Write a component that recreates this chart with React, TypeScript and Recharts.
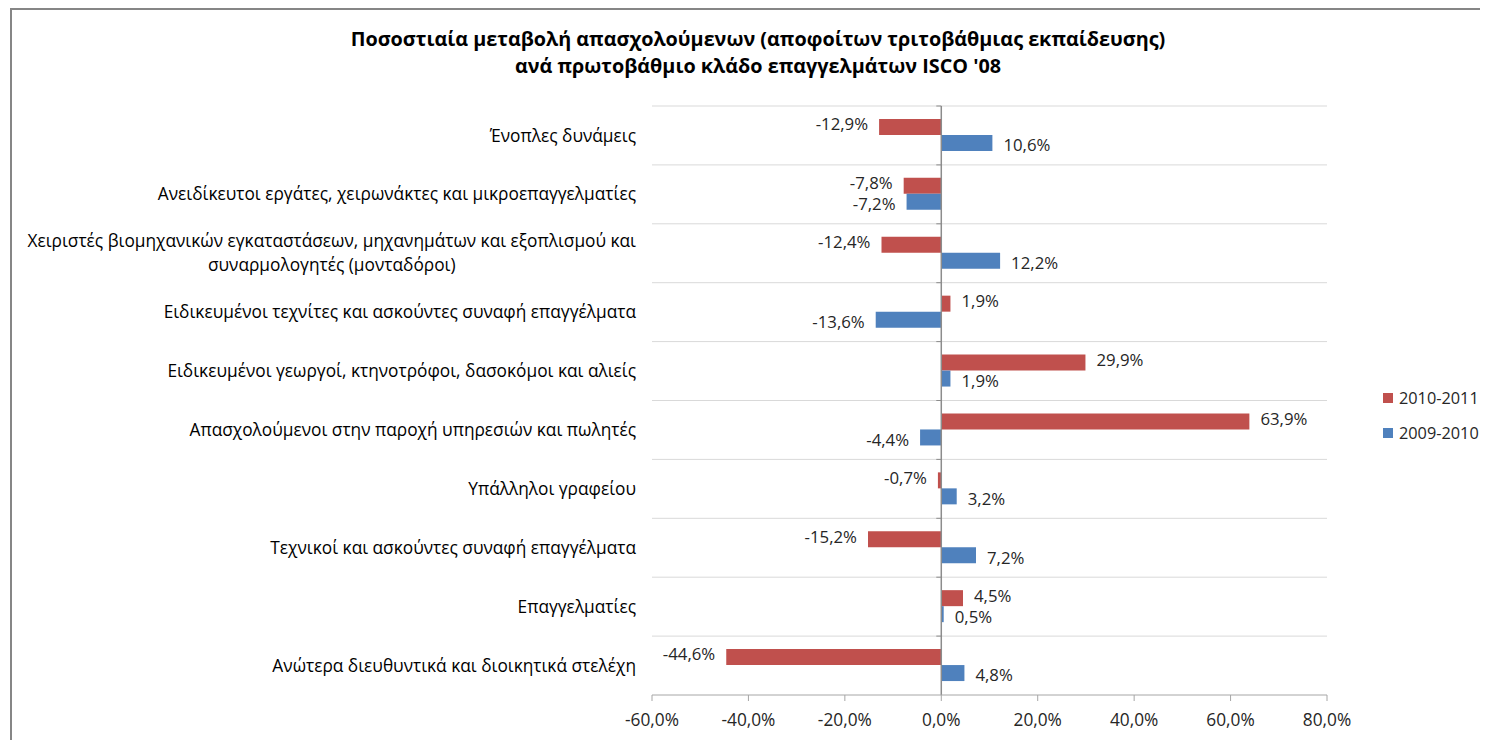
import { BarChart, Bar, XAxis, YAxis, CartesianGrid, ReferenceLine, LabelList, Legend } from "recharts";

const FONT = "'Open Sans', Roboto, sans-serif";
const TICK_FONT_SIZE = 17.3;

const categories: string[] = [
    "Ένοπλες δυνάμεις",
    "Ανειδίκευτοι εργάτες, χειρωνάκτες και μικροεπαγγελματίες",
    "Χειριστές βιομηχανικών εγκαταστάσεων, μηχανημάτων και εξοπλισμού και συναρμολογητές (μονταδόροι)",
    "Ειδικευμένοι τεχνίτες και ασκούντες συναφή επαγγέλματα",
    "Ειδικευμένοι γεωργοί, κτηνοτρόφοι, δασοκόμοι και αλιείς",
    "Απασχολούμενοι στην παροχή υπηρεσιών και πωλητές",
    "Υπάλληλοι γραφείου",
    "Τεχνικοί και ασκούντες συναφή επαγγέλματα",
    "Επαγγελματίες",
    "Ανώτερα διευθυντικά και διοικητικά στελέχη",
];

// % change per period
const change2010to2011: number[] = [-12.9, -7.8, -12.4, 1.9, 29.9, 63.9, -0.7, -15.2, 4.5, -44.6];
const change2009to2010: number[] = [10.6, -7.2, 12.2, -13.6, 1.9, -4.4, 3.2, 7.2, 0.5, 4.8];

const seriesNames: string[] = ["2010-2011", "2009-2010"];

const xTicks: number[] = [-60, -40, -20, 0, 20, 40, 60, 80];

const titleLines: string[] = [
    "Ποσοστιαία μεταβολή απασχολούμενων (αποφοίτων τριτοβάθμιας εκπαίδευσης)",
    "ανά πρωτοβάθμιο κλάδο επαγγελμάτων ISCO '08",
];

const chartData = categories.map((name, i) => ({
    name,
    p2010: change2010to2011[i],
    p2009: change2009to2010[i],
}));

const pct = (v: number) => `${v.toFixed(1).replace(".", ",")}%`;

let measureCtx: CanvasRenderingContext2D | null = null;
const measure = (text: string) => {
    if (!measureCtx) measureCtx = document.createElement("canvas").getContext("2d");
    if (!measureCtx) return text.length * 8;
    measureCtx.font = `${TICK_FONT_SIZE}px ${FONT}`;
    return measureCtx.measureText(text).width;
};

const wrapLabel = (text: string, maxWidth: number) => {
    const words = text.split(" ");
    const lines: string[] = [];
    let current = "";
    words.forEach((w) => {
        const next = current ? `${current} ${w}` : w;
        if (measure(next) > maxWidth && current) {
            lines.push(current);
            current = w;
        } else {
            current = next;
        }
    });
    if (current) lines.push(current);
    return lines;
};

const CategoryTick = ({ x, y, payload }: { x: number; y: number; payload: { value: string } }) => {
    const lines = wrapLabel(payload.value, 640);
    if (lines.length === 1) {
        return (
            <text x={x} y={y} dy="0.35em" textAnchor="end" fontSize={TICK_FONT_SIZE} fill="#000" fontFamily={FONT}>
                {payload.value}
            </text>
        );
    }
    const widest = Math.max(...lines.map(measure));
    const lineH = 24;
    const startY = y - ((lines.length - 1) * lineH) / 2;
    return (
        <text fontSize={TICK_FONT_SIZE} fill="#000" fontFamily={FONT} textAnchor="middle">
            {lines.map((l, i) => (
                <tspan key={i} x={x - widest / 2} y={startY + i * lineH} dy="0.35em">
                    {l}
                </tspan>
            ))}
        </text>
    );
};

// zero line acting as the category axis, with small ticks between categories
const ZeroAxis = (props: any) => {
    const { x1, y1, x2, y2 } = props;
    const top = Math.min(y1, y2);
    const span = Math.abs(y2 - y1);
    return (
        <g>
            <line x1={x1} y1={y1} x2={x2} y2={y2} stroke="#8C8C8C" strokeWidth={1.5} />
            {categories.map((_, i) => {
                const yy = top + (i * span) / categories.length;
                return <line key={i} x1={x1 - 5} x2={x1} y1={yy} y2={yy} stroke="#8C8C8C" strokeWidth={1} />;
            })}
        </g>
    );
};

const makeValueLabel = (nudge: number) => (props: any) => {
    const { x, y, width, height, value } = props;
    const end = value < 0 ? Math.min(x, x + width) : Math.max(x, x + width);
    const gap = 11;
    return (
        <text
            x={value < 0 ? end - gap : end + gap}
            y={y + height / 2 + nudge}
            dy="0.35em"
            textAnchor={value < 0 ? "end" : "start"}
            fontSize={16.8}
            fill="#262626"
            fontFamily={FONT}
        >
            {pct(value)}
        </text>
    );
};

const LegendBox = ({ payload }: any) => {
    const items = [...(payload || [])].sort(
        (a: any, b: any) => seriesNames.indexOf(a.value) - seriesNames.indexOf(b.value)
    );
    return (
        <div style={{ fontFamily: FONT, fontSize: 16.3, color: "#262626", whiteSpace: "nowrap" }}>
            {items.map((item: any, index: number) => (
                <div key={index} style={{ display: "flex", alignItems: "center", height: 35 }}>
                    <span style={{ width: 10, height: 10, background: item.color, marginRight: 6 }} />
                    <span>{item.value}</span>
                </div>
            ))}
        </div>
    );
};

const App = () => {
    return (
        <div style={{ position: "relative", width: 1480, height: 732, overflow: "hidden", fontFamily: FONT, background: "#fff" }}>
            <div
                style={{
                    position: "absolute",
                    left: 2,
                    top: 0,
                    width: 1600,
                    height: 900,
                    border: "2px solid #868686",
                    boxSizing: "border-box",
                }}
            />
            <div
                style={{
                    position: "absolute",
                    left: 0,
                    top: 17,
                    width: 1500,
                    textAlign: "center",
                    fontWeight: "bold",
                    fontSize: 19.8,
                    lineHeight: "27px",
                    color: "#000",
                }}
            >
                {titleLines.map((t, i) => (
                    <div key={i}>{t}</div>
                ))}
            </div>
            <div style={{ position: "absolute", left: 0, top: 0 }}>
                <BarChart
                    width={1480}
                    height={732}
                    data={chartData}
                    layout="vertical"
                    margin={{ top: 98, right: 161, bottom: 5, left: 0 }}
                    barCategoryGap="22%"
                    barGap={0}
                >
                    <CartesianGrid
                        vertical={false}
                        stroke="#D9D9D9"
                        horizontalCoordinatesGenerator={({ offset }: any) =>
                            categories.map((_, i) => offset.top + (i * offset.height) / categories.length)
                        }
                    />
                    <XAxis
                        type="number"
                        domain={[-60, 80]}
                        ticks={xTicks}
                        tickFormatter={pct}
                        stroke="#A6A6A6"
                        tick={{ fill: "#262626", fontSize: 17.3, fontFamily: FONT }}
                        tickSize={6}
                        tickMargin={13}
                        height={40}
                        allowDataOverflow
                    />
                    <YAxis
                        type="category"
                        dataKey="name"
                        width={644}
                        axisLine={false}
                        tickLine={false}
                        tickSize={0}
                        tickMargin={16}
                        interval={0}
                        tick={CategoryTick as any}
                    />
                    <ReferenceLine x={0} shape={ZeroAxis} />
                    <Legend
                        layout="vertical"
                        align="center"
                        verticalAlign="middle"
                        wrapperStyle={{ left: 1375, top: 372, width: 104 }}
                        content={LegendBox}
                    />
                    <Bar dataKey="p2010" name={seriesNames[0]} fill="#C0504D" isAnimationActive={false}>
                        <LabelList dataKey="p2010" content={makeValueLabel(-2.5)} />
                    </Bar>
                    <Bar dataKey="p2009" name={seriesNames[1]} fill="#4F81BD" isAnimationActive={false}>
                        <LabelList dataKey="p2009" content={makeValueLabel(2.5)} />
                    </Bar>
                </BarChart>
            </div>
        </div>
    );
};

export default App;
